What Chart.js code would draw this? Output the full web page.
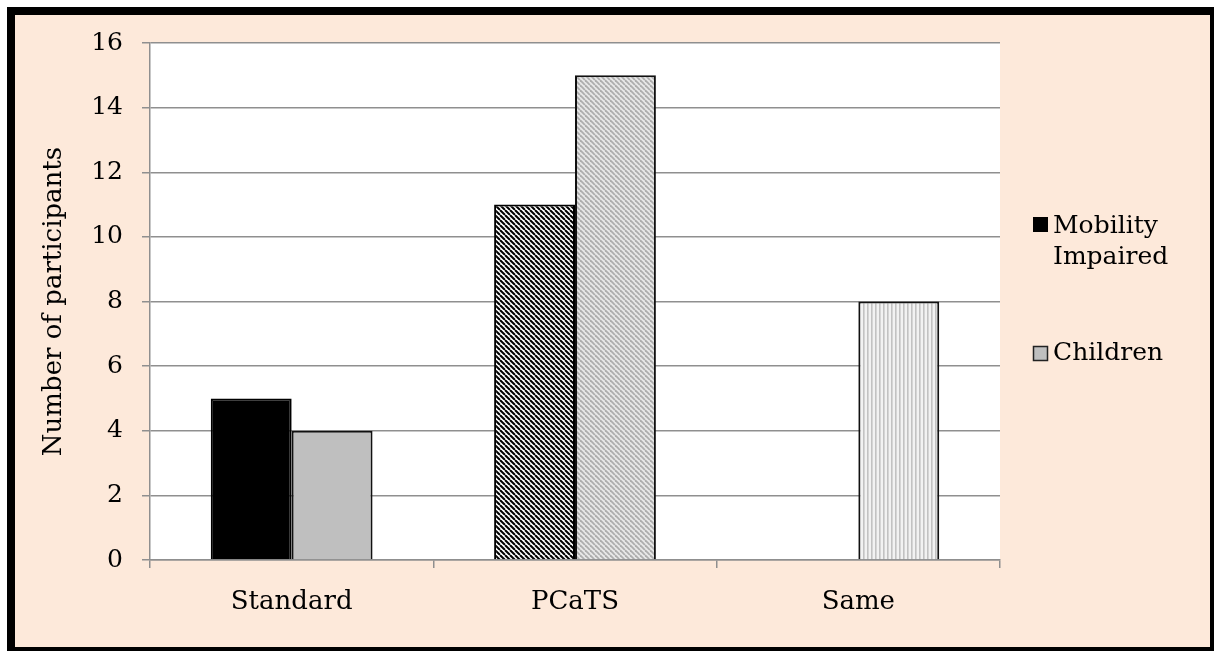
<!DOCTYPE html>
<html>
<head>
<meta charset="utf-8">
<script src="https://cdn.jsdelivr.net/npm/chart.js@4/dist/chart.umd.min.js"></script>
<style>
  html, body { margin: 0; padding: 0; background: #fff; overflow: hidden; }
  #frame {
    position: absolute; left: 7px; top: 7px;
    width: 1195px; height: 632px;
    border: 8px solid #000;
    background: #FDE9DA;
  }
  #wrap { position: relative; width: 1195px; height: 632px; }
</style>
</head>
<body>
<div id="frame"><div id="wrap"><canvas id="chart"></canvas></div></div>
<script>
const categories = ['Standard', 'PCaTS', 'Same'];
const mobilityImpaired = [5, 11, 0];
const children = [4, 15, 8];
const yTicks = [0, 2, 4, 6, 8, 10, 12, 14, 16];
const seriesNames = [['Mobility', 'Impaired'], ['Children']];

const FONT = "'DejaVu Serif', 'Liberation Serif', serif";

// little tiles for the hatched fills
function makePattern(size, draw) {
    const c = document.createElement('canvas');
    c.width = size; c.height = size;
    const g = c.getContext('2d');
    draw(g, size);
    return g.createPattern(c, 'repeat');
}

function diagonal(bg, fg, width) {
    return function(g, s) {
        g.fillStyle = bg;
        g.fillRect(0, 0, s, s);
        g.strokeStyle = fg;
        g.lineWidth = width;
        for (let x0 = -s; x0 <= s; x0 += s) {
            g.beginPath();
            g.moveTo(x0, 0);
            g.lineTo(x0 + s, s);
            g.stroke();
        }
    };
}

const darkHatch = makePattern(5, diagonal('#ffffff', '#000000', 2));
const lightHatch = makePattern(5, diagonal('#e8e8e8', '#adadad', 1.8));
const vertStripes = makePattern(4, function(g, s) {
    g.fillStyle = '#f2f2f2';
    g.fillRect(0, 0, s, s);
    g.fillStyle = '#c2c2c2';
    g.fillRect(0, 0, 1.6, s);
});

const legendPlugin = {
    id: 'sideLegend',
    afterDraw(chart) {
        const ctx = chart.ctx;
        ctx.save();
        ctx.font = '25px ' + FONT;
        ctx.textBaseline = 'alphabetic';
        // Mobility Impaired
        ctx.fillStyle = '#000';
        ctx.fillRect(1018, 202, 15, 15);
        ctx.fillText(seriesNames[0][0], 1038, 218);
        ctx.fillText(seriesNames[0][1], 1038, 249);
        // Children
        ctx.fillStyle = '#bfbfbf';
        ctx.fillRect(1018, 331, 15, 15);
        ctx.strokeStyle = '#222';
        ctx.lineWidth = 1.5;
        ctx.strokeRect(1018.5, 331.5, 14, 14);
        ctx.fillStyle = '#000';
        ctx.fillText(seriesNames[1][0], 1038, 345);
        ctx.restore();
    }
};

const plotBg = {
    id: 'plotBg',
    beforeDraw(chart) {
        const a = chart.chartArea;
        chart.ctx.save();
        chart.ctx.fillStyle = '#ffffff';
        chart.ctx.fillRect(a.left, a.top, a.right - a.left, a.bottom - a.top);
        chart.ctx.restore();
    }
};

new Chart(document.getElementById('chart'), {
    type: 'bar',
    data: {
        labels: categories,
        datasets: [{
            label: 'Mobility Impaired',
            data: mobilityImpaired,
            backgroundColor: ['#000000', darkHatch, '#000000'],
            borderColor: '#000',
            borderWidth: 2,
            barPercentage: 1,
            categoryPercentage: 0.571
        }, {
            label: 'Children',
            data: children,
            backgroundColor: ['#bfbfbf', lightHatch, vertStripes],
            borderColor: '#111',
            borderWidth: 2,
            barPercentage: 1,
            categoryPercentage: 0.571
        }]
    },
    options: {
        responsive: true,
        maintainAspectRatio: false,
        animation: false,
        layout: { padding: { left: 18, top: 28, right: 210, bottom: 0 } },
        plugins: {
            legend: { display: false },
            tooltip: { enabled: false }
        },
        scales: {
            x: {
                afterFit(scale) { scale.height = 87; },
                grid: {
                    offset: true,
                    drawOnChartArea: false,
                    tickLength: 8,
                    color: '#8f8f8f',
                    lineWidth: 1.5
                },
                border: { color: '#8f8f8f', width: 1.5 },
                ticks: {
                    padding: 19,
                    color: '#000',
                    font: { family: FONT, size: 26 }
                }
            },
            y: {
                min: 0,
                max: 16,
                afterFit(scale) {
                    scale.width = 117;
                    scale.paddingTop = 0;
                    scale.paddingBottom = 0;
                },
                afterBuildTicks(scale) {
                    scale.ticks = yTicks.map(v => ({ value: v }));
                },
                grid: {
                    tickLength: 8,
                    color: '#8f8f8f',
                    lineWidth: 1.5
                },
                border: { color: '#8f8f8f', width: 1.5 },
                ticks: {
                    padding: 19,
                    color: '#000',
                    font: { family: FONT, size: 25, lineHeight: 0.6 }
                },
                title: {
                    display: true,
                    text: 'Number of participants',
                    color: '#000',
                    padding: { top: 6, bottom: 0 },
                    font: { family: FONT, size: 26 }
                }
            }
        }
    },
    plugins: [plotBg, legendPlugin]
});
</script>
</body>
</html>
